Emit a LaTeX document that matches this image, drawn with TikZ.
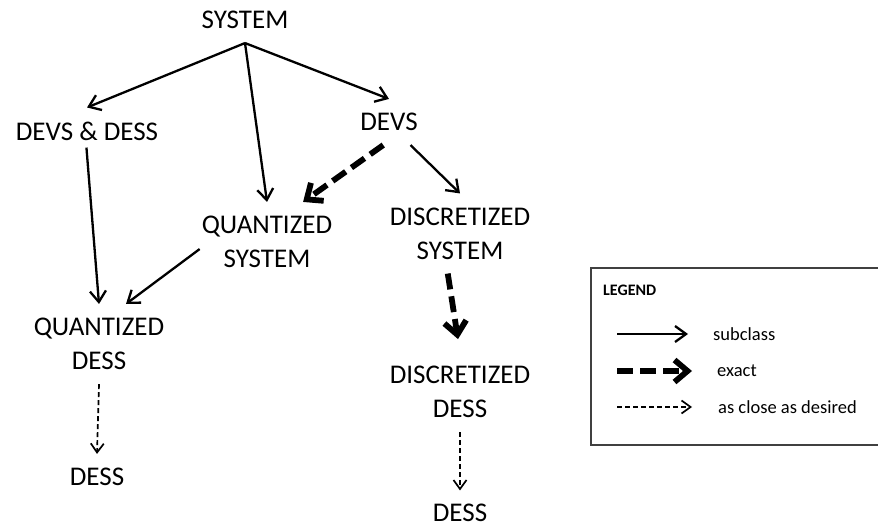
\documentclass[tikz,border=0pt]{standalone}
\usepackage{fontspec}
\setmainfont{Carlito}
\usetikzlibrary{arrows.meta}
\begin{document}
\begin{tikzpicture}[x=1pt,y=-1pt,
  cls/.style={font=\fontsize{27}{34}\selectfont, align=center, inner xsep=2pt, inner ysep=14pt},
  subarr/.style={line width=2.3pt, -{Straight Barb[length=11pt,width=16pt]}},
  exactarr/.style={line width=5.8pt, dash pattern=on 16pt off 7pt, -{Straight Barb[length=13pt,width=22pt]}},
  closearr/.style={line width=1.7pt, dash pattern=on 5pt off 3pt, -{Straight Barb[length=9pt,width=13pt]}},
  leg/.style={font=\fontsize{18.5}{22}\selectfont, anchor=west, inner sep=0pt}]
\useasboundingbox (0,0) rectangle (878,525);

\node[cls] (sys) at (245,20){SYSTEM};
\node[cls] (dvds) at (87,131){DEVS \& DESS};
\node[cls] (devs) at (389,122){DEVS};
\node[cls] (qsys) at (267,242){QUANTIZED\\SYSTEM};
\node[cls] (dsys) at (460,233.5){DISCRETIZED\\SYSTEM};
\node[cls] (qdess) at (99,344){QUANTIZED\\DESS};
\node[cls] (ddess) at (460,392){DISCRETIZED\\DESS};
\node[cls] (dess1) at (97,477){DESS};
\node[cls, inner ysep=1.5pt] (dess2) at (460,513){DESS};

\draw[subarr](sys.south) -- (dvds.north);
\draw[subarr](sys.south) -- (qsys.north);
\draw[subarr](sys.south) -- (devs.north);
\draw[subarr, shorten <=-7pt](dvds.south) -- (qdess.north);
\draw[subarr](qsys.186) -- (qdess.56);
\draw[subarr](devs.313) -- (dsys.north);

\draw[exactarr](devs.256) -- (qsys.48);
\draw[exactarr, shorten >=13pt](dsys.253) -- (ddess.north);

\draw[closearr](qdess.south) -- (dess1.north);
\draw[closearr, shorten >=12pt](ddess.south) -- (dess2.north);

\draw[black!75, line width=1.2pt] (591,268) rectangle (880,445);
\node[font=\bfseries\fontsize{16}{19}\selectfont, anchor=west, inner sep=0pt] (legtitle) at (603,290){LEGEND};
\node[leg] (lsub) at (713,334){subclass};
\node[leg] (lexact) at (717,371){exact};
\node[leg] (lclose) at (718,407){as close as desired};
\coordinate (lsub0) at (617,334);
\coordinate (lexact0) at (617,371);
\coordinate (lclose0) at (617,407);
\draw[subarr, shorten >=25pt](lsub0) -- (lsub.west);
\draw[exactarr, shorten >=25pt](lexact0) -- (lexact.west);
\draw[closearr, shorten >=26pt](lclose0) -- (lclose.west);

\end{tikzpicture}
\end{document}
